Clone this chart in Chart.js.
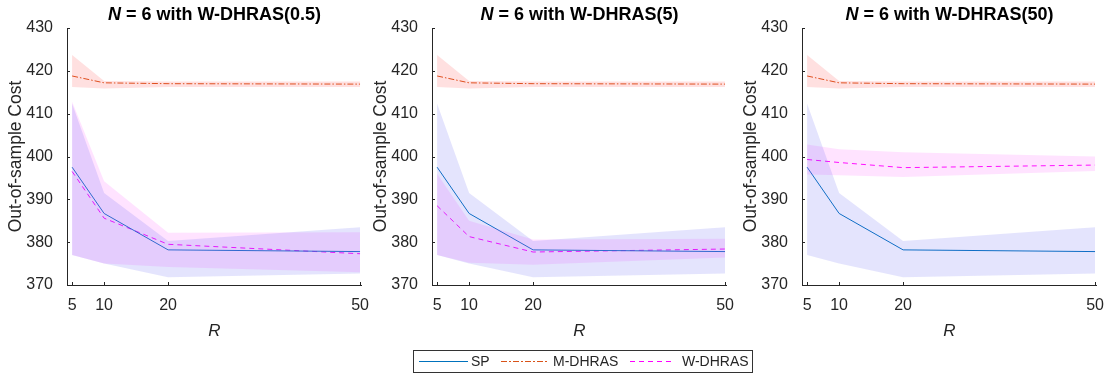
<!DOCTYPE html>
<html>
<head>
<meta charset="utf-8">
<script src="https://cdn.jsdelivr.net/npm/chart.js@4"></script>
<style>
  body { margin: 0; background: #fff; width: 1106px; height: 373px; position: relative; overflow: hidden;
         font-family: "Liberation Sans", Arial, sans-serif; }
  .pane { position: absolute; top: 0; width: 372px; height: 345px; }
  .legend { position: absolute; left: 413px; top: 350px; width: 340px; height: 23px; border: 1px solid #333;
            box-sizing: border-box; font-size: 14px; color: #262626; white-space: nowrap; }
  .legend span { position: absolute; top: 2px; }
  .legend i { position: absolute; top: 10px; height: 1px; }
</style>
</head>
<body>
<div class="pane" style="left:0"><canvas id="c1" width="372" height="345"></canvas></div>
<div class="pane" style="left:365px"><canvas id="c2" width="372" height="345"></canvas></div>
<div class="pane" style="left:735px"><canvas id="c3" width="372" height="345"></canvas></div>
<div class="legend">
  <i style="left:5px;width:49px;background:#0072BD"></i>
  <i style="left:87px;width:46px;background:repeating-linear-gradient(to right,#D95319 0 6px,transparent 6px 8px,#D95319 8px 10px,transparent 10px 12px)"></i>
  <i style="left:216px;width:45px;background:repeating-linear-gradient(to right,#FF00FF 0 5px,transparent 5px 9px)"></i>
  <span style="left:57px">SP</span>
  <span style="left:139px">M-DHRAS</span>
  <span style="left:268px">W-DHRAS</span>
</div>
<script>
// sample sizes on the x axis
const R = [5, 10, 20, 50];
const yTicks = [370, 380, 390, 400, 410, 420, 430];

// SP (same in all three panels)
const spMean = [397.5, 386.7, 378.2, 377.8];
const spUp = [412.3, 391.5, 380.3, 383.5];
const spLo = [377.0, 375.0, 371.8, 372.7];

// M-DHRAS
const mMean = [418.8, 417.2, 417.0, 416.9];
const mUp = [423.7, 417.6, 417.5, 417.5];
const mLo = [416.2, 415.9, 416.2, 416.2];

// W-DHRAS for each radius (0.5, 5, 50)
const titles = ["0.5", "5", "50"];
const wMean = [
  [396.5, 385.6, 379.5, 377.3],
  [388.5, 381.3, 377.7, 378.4],
  [399.3, 398.6, 397.4, 398.0],
];
const wUp = [
  [412.8, 394.2, 382.2, 382.3],
  [396.0, 385.0, 380.6, 380.8],
  [402.8, 401.7, 401.0, 400.0],
];
const wLo = [
  [377.0, 375.0, 374.2, 373.0],
  [377.0, 375.2, 374.7, 376.4],
  [395.8, 395.6, 395.2, 396.6],
];

const BLUE = "#0072BD", ORANGE = "#D95319", MAG = "#FF00FF";
const DASH_DOT = [6, 2, 1.5, 2], DASH = [5, 4];
const FAM = '"Liberation Sans", Arial, sans-serif';
const pts = (ys) => ys.map((y, i) => ({ x: R[i], y }));

function band(up, lo, fillCol) {
  return [
    { data: pts(up), borderWidth: 0, pointRadius: 0, fill: "+1", backgroundColor: fillCol, tension: 0 },
    { data: pts(lo), borderWidth: 0, pointRadius: 0, fill: false, tension: 0 },
  ];
}
function line(ys, col, dash) {
  return { data: pts(ys), borderColor: col, borderWidth: 1, borderDash: dash, pointRadius: 0, fill: false, tension: 0 };
}

// title with italic N, plus inward ticks like matlab
const titlePlugin = {
  id: "ttl",
  afterDraw(chart, args, o) {
    const ctx = chart.ctx, a = chart.chartArea;
    const p1 = "N", p2 = " = 6 with W-DHRAS(" + o.text + ")";
    ctx.save();
    ctx.fillStyle = "#000";
    ctx.textBaseline = "middle";
    ctx.font = "italic bold 18px " + FAM;
    const w1 = ctx.measureText(p1).width;
    ctx.font = "bold 18px " + FAM;
    const w2 = ctx.measureText(p2).width;
    let x = (a.left + a.right) / 2 - (w1 + w2) / 2;
    ctx.font = "italic bold 18px " + FAM;
    ctx.fillText(p1, x, 15);
    ctx.font = "bold 18px " + FAM;
    ctx.fillText(p2, x + w1, 15);
    ctx.strokeStyle = "#262626";
    ctx.lineWidth = 1;
    const xs = chart.scales.x, ys = chart.scales.y;
    R.forEach((v) => {
      const px = Math.round(xs.getPixelForValue(v)) + 0.5;
      ctx.beginPath(); ctx.moveTo(px, a.bottom); ctx.lineTo(px, a.bottom - 3); ctx.stroke();
    });
    yTicks.forEach((v) => {
      const py = Math.round(ys.getPixelForValue(v)) + 0.5;
      ctx.beginPath(); ctx.moveTo(a.left, py); ctx.lineTo(a.left + 3, py); ctx.stroke();
    });
    ctx.restore();
  },
};

const font = { family: FAM, size: 16 };

["c1", "c2", "c3"].forEach((id, k) => {
  const datasets = [
    ...band(spUp, spLo, "rgba(90,90,240,0.16)"),
    ...band(mUp, mLo, "rgba(255,60,60,0.16)"),
    ...band(wUp[k], wLo[k], "rgba(255,80,255,0.16)"),
    line(spMean, BLUE, []),
    line(mMean, ORANGE, DASH_DOT),
    line(wMean[k], MAG, DASH),
  ];
  new Chart(document.getElementById(id), {
    type: "line",
    data: { datasets },
    plugins: [titlePlugin],
    options: {
      responsive: false,
      animation: false,
      layout: { padding: { top: 28, right: 10, left: 0, bottom: 0 } },
      plugins: { legend: { display: false }, tooltip: { enabled: false }, ttl: { text: titles[k] } },
      scales: {
        x: {
          type: "linear",
          min: 4.2,
          max: 50.3,
          afterBuildTicks: (s) => { s.ticks = R.map((v) => ({ value: v })); },
          afterFit: (s) => { s.height = 60; },
          grid: { display: false },
          border: { display: true, color: "#262626" },
          ticks: { color: "#262626", font, maxRotation: 0, padding: 3 },
          title: { display: true, text: "R", color: "#262626",
                   font: { family: FAM, size: 17, style: "italic" }, padding: { top: 3 } },
        },
        y: {
          min: 370,
          max: 430,
          afterBuildTicks: (s) => { s.ticks = yTicks.map((v) => ({ value: v })); },
          afterFit: (s) => { s.width = 67; },
          grid: { display: false },
          border: { display: true, color: "#262626" },
          ticks: { color: "#262626", font, padding: 6 },
          title: { display: true, text: "Out-of-sample Cost", color: "#262626",
                   font: { family: FAM, size: 17.5 }, padding: { top: 6, bottom: 0 } },
        },
      },
    },
  });
});
</script>
</body>
</html>
